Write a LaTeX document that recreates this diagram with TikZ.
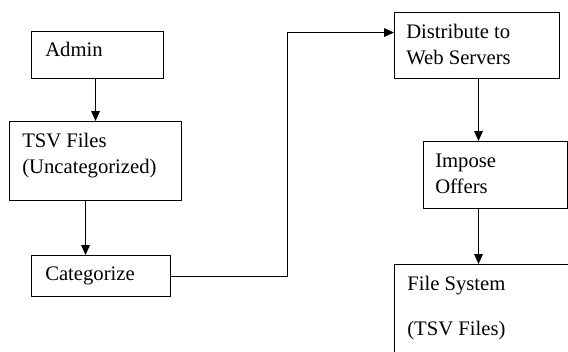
\documentclass[tikz,border=0pt]{standalone}
\usepackage{fontspec}
\setmainfont{Liberation Serif}
\usetikzlibrary{arrows.meta,positioning}
\tikzstyle{box} = [draw=black,line width=0.8pt,rectangle,anchor=north west,inner sep=0pt]
\tikzstyle{txt} = [anchor=base west,inner sep=0pt,align=left,font=\fontsize{15.5}{19.5}\selectfont]
\tikzstyle{arrow} = [line width=0.8pt,->,>={Triangle[length=7.5pt,width=6.5pt]},draw=black]

\begin{document}
\begin{tikzpicture}[x=0.75pt,y=-0.75pt]
    \useasboundingbox (0,0) rectangle (568,351);
    \clip (0,0) rectangle (568,351);
    % left column
    \node[box,minimum width=99pt,minimum height=35.25pt](admin) at (31,31) {};
    \node[box,minimum width=129pt,minimum height=59.25pt](tsv) at (9,121) {};
    \node[box,minimum width=104.25pt,minimum height=30.75pt](cat) at (31,255) {};
    % right column
    \node[box,minimum width=123.75pt,minimum height=49.5pt](dist) at (394,12) {};
    \node[box,minimum width=108pt,minimum height=50.25pt](offers) at (423,141) {};
    \node[box,minimum width=150pt,minimum height=90pt](fsys) at (394,264) {};
    % texts (base = last line)
    \node[txt](admintxt) at ([shift={(14,25)}]admin.north west) {Admin};
    \node[txt](tsvtxt) at ([shift={(13,52)}]tsv.north west) {TSV Files\\(Uncategorized)};
    \node[txt](cattxt) at ([shift={(14,25)}]cat.north west) {Categorize};
    \node[txt](disttxt) at ([shift={(12,52)}]dist.north west) {Distribute to\\Web Servers};
    \node[txt](offerstxt) at ([shift={(12,52)}]offers.north west) {Impose\\Offers};
    \node[txt](fsystxt) at ([shift={(13,71)}]fsys.north west) {File System\\[14.25pt](TSV Files)};
    % connectors
    \coordinate (down) at ([xshift=1.1pt]dist.south);
    \draw[arrow] ([xshift=-1.5pt]admin.south) -- ([xshift=-1.5pt]admin.south |- tsv.north);
    \draw[arrow] ([xshift=-7.5pt]tsv.south) -- ([xshift=-7.5pt]tsv.south |- cat.north);
    \draw[arrow] (cat.east) -- ++(116,0) |- ([yshift=9.75pt]dist.west);
    \draw[arrow] (down) -- (down |- offers.north);
    \draw[arrow] (down |- offers.south) -- (down |- fsys.north);
\end{tikzpicture}
\end{document}
